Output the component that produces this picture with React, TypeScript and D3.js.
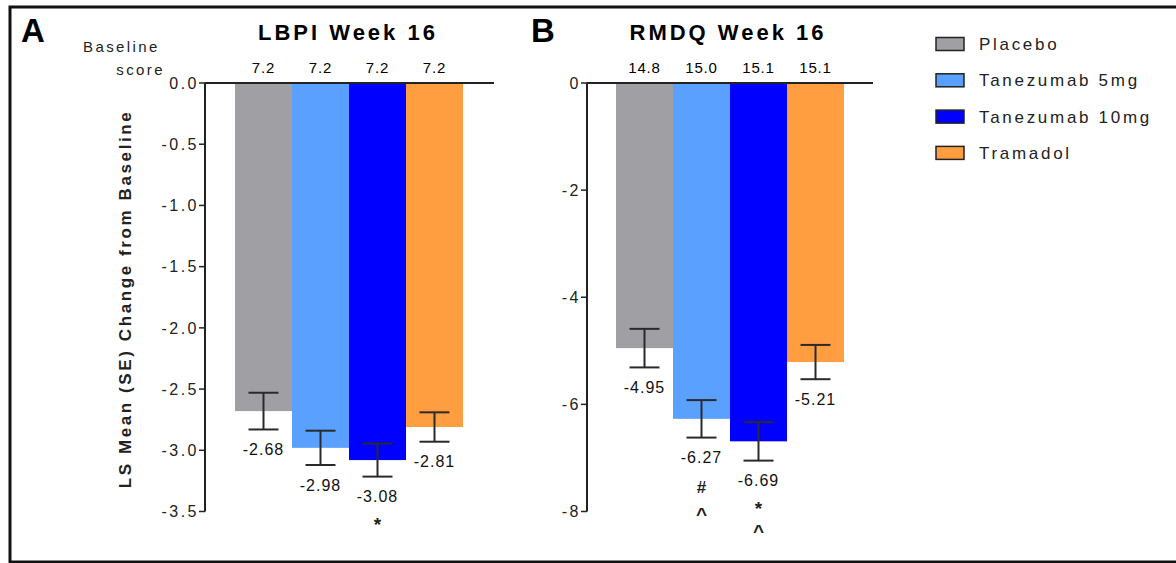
import React from 'react';
import * as d3 from 'd3';

// Treatment groups and colours
const groups = ['Placebo', 'Tanezumab 5mg', 'Tanezumab 10mg', 'Tramadol'];
const colors = ['#a0a0a4', '#5aa0ff', '#0000ff', '#ff9e40'];

// Panel A: LBPI week 16
const lbpiMean = [-2.68, -2.98, -3.08, -2.81];
const lbpiSE = [0.15, 0.14, 0.135, 0.12];
const lbpiBaseline = ['7.2', '7.2', '7.2', '7.2'];
const lbpiMarks = [[], [], ['*'], []];
const lbpiTicks = [0, -0.5, -1, -1.5, -2, -2.5, -3, -3.5];

// Panel B: RMDQ week 16
const rmdqMean = [-4.95, -6.27, -6.69, -5.21];
const rmdqSE = [0.36, 0.35, 0.36, 0.32];
const rmdqBaseline = ['14.8', '15.0', '15.1', '15.1'];
const rmdqMarks = [[], ['#', '^'], ['*', '^'], []];
const rmdqTicks = [0, -2, -4, -6, -8];

const FONT = '"Liberation Sans", Arial, sans-serif';

// glyph-specific size and baseline shift so marks sit centred
const markStyle: Record<string, { size: number; shift: number; gap: number }> = {
  '#': { size: 17, shift: 6, gap: 29 },
  '*': { size: 19, shift: 11, gap: 23 },
  '^': { size: 19, shift: 10, gap: 24 },
};

type PanelProps = {
  letter: string;
  title: string;
  means: number[];
  ses: number[];
  baseline: string[];
  marks: string[][];
  ticks: number[];
  tickFmt: (d: number) => string;
  axisX: number;
  barsX: number;
  axisEnd: number;
  letterX: number;
  titleX: number;
};

function Panel(p: PanelProps) {
  const y = d3.scaleLinear().domain([0, p.ticks[p.ticks.length - 1]]).range([83, 511.5]);
  const x = d3.scaleBand().domain(groups).range([p.barsX, p.barsX + 228]).padding(0);
  const bw = x.bandwidth();

  return (
    <g fontFamily={FONT}>
      <text x={p.letterX} y={42} fontSize={33} fontWeight="bold">{p.letter}</text>
      <text x={p.titleX} y={40} fontSize={22} fontWeight="bold" textAnchor="middle" letterSpacing={3}>
        {p.title}
      </text>

      {groups.map((g, i) => (
        <text key={'b' + g} x={x(g)! + bw / 2} y={73} fontSize={15} textAnchor="middle" letterSpacing={0.8}>
          {p.baseline[i]}
        </text>
      ))}

      {groups.map((g, i) => (
        <rect key={'r' + g} x={x(g)} y={y(0)} width={bw} height={y(p.means[i]) - y(0)} fill={colors[i]} />
      ))}

      {/* axes */}
      <line x1={p.axisX} x2={p.axisX} y1={y(0)} y2={y(p.ticks[p.ticks.length - 1])} stroke="#222" strokeWidth={2} />
      <line x1={p.axisX} x2={p.axisEnd} y1={y(0)} y2={y(0)} stroke="#222" strokeWidth={2} />
      {p.ticks.map((t) => (
        <g key={'t' + t}>
          <line x1={p.axisX - 6} x2={p.axisX} y1={y(t)} y2={y(t)} stroke="#222" strokeWidth={1.5} />
          <text x={p.axisX - 6} y={y(t)} dy="0.36em" fontSize={16} textAnchor="end" letterSpacing={2.5} fill="#222">
            {p.tickFmt(t)}
          </text>
        </g>
      ))}

      {/* error bars, value labels and significance marks */}
      {groups.map((g, i) => {
        const cx = x(g)! + bw / 2;
        const top = y(p.means[i] + p.ses[i]);
        const bot = y(p.means[i] - p.ses[i]);
        const labelY = bot + 20;
        let cy = labelY;
        return (
          <g key={'e' + g} stroke="#2a2a2a" strokeWidth={2}>
            <line x1={cx} x2={cx} y1={top} y2={bot} />
            <line x1={cx - 15} x2={cx + 15} y1={top} y2={top} />
            <line x1={cx - 15} x2={cx + 15} y1={bot} y2={bot} />
            <text x={cx} y={labelY} dy="0.36em" fontSize={16} textAnchor="middle" stroke="none" fill="#111" letterSpacing={1}>
              {p.means[i].toFixed(2)}
            </text>
            {p.marks[i].map((m, k) => {
              const s = markStyle[m];
              cy += s.gap;
              return (
                <text
                  key={k}
                  x={cx}
                  y={cy + s.shift}
                  fontSize={s.size}
                  fontWeight="bold"
                  textAnchor="middle"
                  stroke="none"
                  fill="#222"
                >
                  {m}
                </text>
              );
            })}
          </g>
        );
      })}
    </g>
  );
}

export default function App() {
  return (
    <svg width={1176} height={563} style={{ position: 'absolute', left: 0, top: 0, background: '#fff' }}>
      <rect x={10} y={7} width={1200} height={555} fill="#fff" stroke="#111" strokeWidth={3} />

      <g fontFamily={FONT} fontSize={15} fill="#222" letterSpacing={2.4}>
        <text x={83} y={52}>Baseline</text>
        <text x={165} y={75} textAnchor="end">score</text>
      </g>

      <text
        transform="translate(131,299) rotate(-90)"
        textAnchor="middle"
        fontFamily={FONT}
        fontSize={17}
        fontWeight="bold"
        letterSpacing={2.6}
        fill="#222"
      >
        LS Mean (SE) Change from Baseline
      </text>

      <Panel
        letter="A"
        title="LBPI Week 16"
        means={lbpiMean}
        ses={lbpiSE}
        baseline={lbpiBaseline}
        marks={lbpiMarks}
        ticks={lbpiTicks}
        tickFmt={(d) => d.toFixed(1)}
        axisX={205}
        barsX={235}
        axisEnd={494}
        letterX={21}
        titleX={348}
      />
      <Panel
        letter="B"
        title="RMDQ Week 16"
        means={rmdqMean}
        ses={rmdqSE}
        baseline={rmdqBaseline}
        marks={rmdqMarks}
        ticks={rmdqTicks}
        tickFmt={(d) => String(d)}
        axisX={587}
        barsX={616}
        axisEnd={873}
        letterX={531}
        titleX={728}
      />

      {/* legend */}
      <g fontFamily={FONT} fontSize={17} letterSpacing={2.7} fill="#222">
        {groups.map((g, i) => (
          <g key={g} transform={`translate(0, ${44 + i * 36.3})`}>
            <rect x={936} y={-6.5} width={28} height={13} fill={colors[i]} stroke="#222" strokeWidth={1.5} />
            <text x={979} y={0} dy="0.36em">{g}</text>
          </g>
        ))}
      </g>
    </svg>
  );
}
